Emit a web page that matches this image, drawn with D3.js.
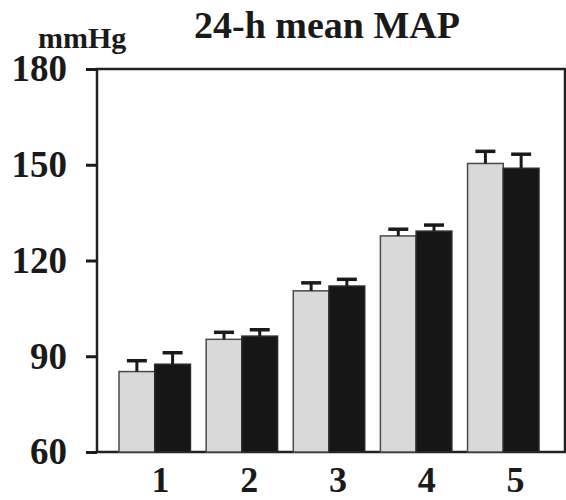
<!DOCTYPE html>
<html>
<head>
<meta charset="utf-8">
<script src="https://cdn.jsdelivr.net/npm/d3@7"></script>
<style>
  html, body { margin: 0; padding: 0; background: #fff; }
  svg { display: block; }
</style>
</head>
<body>
<svg id="chart" width="566" height="500"></svg>
<script>
// ---- data ----
const categories = ["1", "2", "3", "4", "5"];
const grayValues  = [85.2, 95.3, 110.5, 127.7, 150.4];
const grayErrors  = [3.4, 2.2, 2.5, 2.1, 3.8];
const blackValues = [87.5, 96.3, 112.0, 129.2, 148.9];
const blackErrors = [3.6, 2.0, 2.1, 1.9, 4.4];
const yTicks = [60, 90, 120, 150, 180];
const titleText = "24-h mean MAP";
const unitText = "mmHg";

(function () {
// ---- layout ----
const pLeft = 97, pRight = 565, pTop = 69, pBottom = 452;
const font = "'Liberation Serif', 'Times New Roman', serif";
const svg = d3.select("#chart");

const y = d3.scaleLinear().domain([60, 180]).range([pBottom, pTop]);
const x = d3.scaleBand().domain(categories).range([119, 539]).paddingInner(0.18).paddingOuter(0);
const sub = d3.scaleBand().domain(["gray", "black"]).range([0, x.bandwidth()]).padding(0);
const xLabel = d3.scalePoint().domain(categories).range([160, 515]);

const series = [
  { key: "gray", values: grayValues, errors: grayErrors, fill: "#d9d9d9", stroke: "#4a4a4a" },
  { key: "black", values: blackValues, errors: blackErrors, fill: "#161616", stroke: "#2a2a2a" }
];

// frame
svg.append("rect")
  .attr("x", pLeft).attr("y", pTop)
  .attr("width", pRight - pLeft).attr("height", pBottom - pTop)
  .attr("fill", "none").attr("stroke", "#222").attr("stroke-width", 2.5);

// bars
series.forEach(s => {
  const g = svg.append("g").attr("class", "series-" + s.key);
  g.selectAll("rect")
    .data(categories.map((c, i) => ({ c, v: s.values[i], e: s.errors[i] })))
    .join("rect")
    .attr("x", d => x(d.c) + sub(s.key))
    .attr("y", d => y(d.v))
    .attr("width", sub.bandwidth())
    .attr("height", d => y(60) - y(d.v))
    .attr("fill", s.fill)
    .attr("stroke", s.stroke)
    .attr("stroke-width", 1.5);
});

// error bars
series.forEach(s => {
  const g = svg.append("g").attr("class", "err-" + s.key);
  const data = categories.map((c, i) => ({ c, v: s.values[i], e: s.errors[i] }));
  const cx = d => x(d.c) + sub(s.key) + sub.bandwidth() / 2;
  g.selectAll("line.stem").data(data).join("line")
    .attr("class", "stem")
    .attr("x1", cx).attr("x2", cx)
    .attr("y1", d => y(d.v)).attr("y2", d => y(d.v + d.e))
    .attr("stroke", "#1a1a1a").attr("stroke-width", 3);
  g.selectAll("line.cap").data(data).join("line")
    .attr("class", "cap")
    .attr("x1", d => cx(d) - 10).attr("x2", d => cx(d) + 10)
    .attr("y1", d => y(d.v + d.e)).attr("y2", d => y(d.v + d.e))
    .attr("stroke", "#1a1a1a").attr("stroke-width", 3.5);
});

// y axis
const yAxis = svg.append("g")
  .attr("transform", `translate(${pLeft},0)`)
  .call(d3.axisLeft(y).tickValues(yTicks).tickSize(11).tickPadding(19));
yAxis.select(".domain").remove();
yAxis.selectAll(".tick line").attr("stroke", "#1a1a1a").attr("stroke-width", 3);
yAxis.selectAll(".tick text")
  .attr("font-family", font).attr("font-weight", "bold")
  .attr("font-size", 37).attr("fill", "#1a1a1a");

// x axis labels
const xAxis = svg.append("g")
  .attr("transform", `translate(0,${pBottom})`)
  .call(d3.axisBottom(xLabel).tickSize(0).tickPadding(14.5));
xAxis.select(".domain").remove();
xAxis.selectAll(".tick text")
  .attr("font-family", font).attr("font-weight", "bold")
  .attr("font-size", 36).attr("fill", "#1a1a1a");

// title and unit
svg.append("text")
  .attr("x", 327).attr("y", 38)
  .attr("text-anchor", "middle")
  .attr("font-family", font).attr("font-weight", "bold")
  .attr("font-size", 38).attr("fill", "#1a1a1a")
  .text(titleText);

svg.append("text")
  .attr("x", 38).attr("y", 48)
  .attr("text-anchor", "start")
  .attr("font-family", font).attr("font-weight", "bold")
  .attr("font-size", 30).attr("fill", "#1a1a1a")
  .text(unitText);
})();
</script>
</body>
</html>
